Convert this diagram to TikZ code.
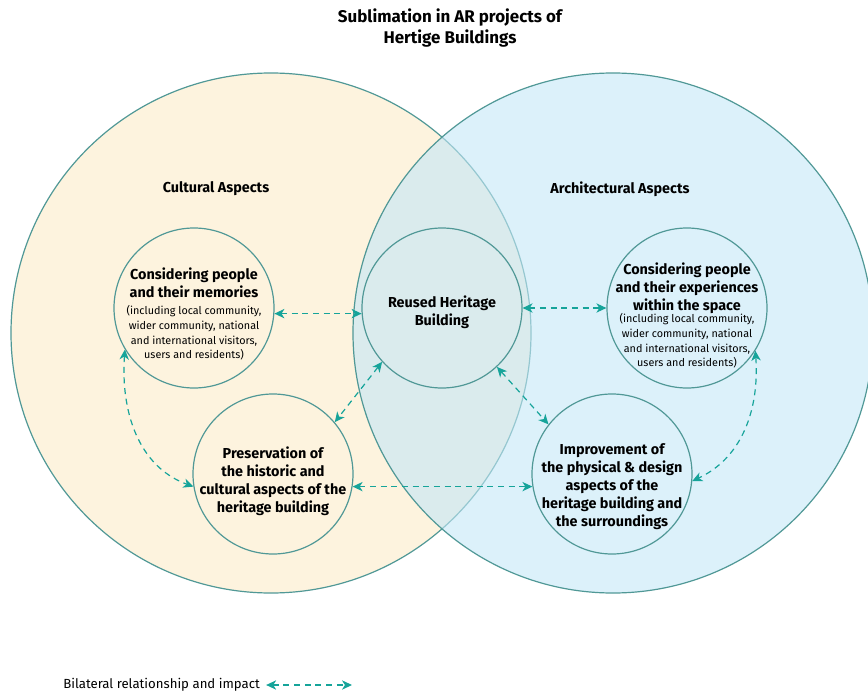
\documentclass[tikz,border=0pt]{standalone}
\usepackage{fontspec}
\setmainfont{Fira Sans}
\usetikzlibrary{arrows.meta}

\definecolor{culture}{RGB}{253,243,222}
\definecolor{archi}{RGB}{196,231,247}
\definecolor{rim}{RGB}{80,152,150}
\definecolor{arrowteal}{RGB}{22,164,154}

\tikzset{
  aspect/.style={circle, draw=rim, line width=0.9pt, minimum size=390pt, inner sep=0pt},
  topic/.style={circle, draw=rim, line width=0.9pt, minimum size=120pt, inner sep=0pt},
  head/.style={font=\bfseries\fontsize{10.8}{13.5}\selectfont, align=center, inner sep=0pt},
  note/.style={font=\fontsize{8.1}{11}\selectfont, align=center, inner sep=0pt},
  link/.style={draw=arrowteal, line width=0.9pt, dash pattern=on 4.5pt off 3.5pt, <->, >={Stealth[length=7.5pt,width=7pt,inset=2.2pt]}},
}

\begin{document}
\begin{tikzpicture}[x=0.75pt, y=-0.75pt]
    \useasboundingbox (0,0) rectangle (868,692);

    % the two aspects
    \node (cultural) [aspect, fill=culture] at (271,333) {};
    \node (architectural) [aspect, fill=archi, fill opacity=0.6] at (613,333) {};

    \node (title) [head, font=\bfseries\fontsize{12.7}{16}\selectfont] at (450,28) {Sublimation in AR projects of\\Hertige Buildings};
    \node (culturalT) [head] at (216,189) {Cultural Aspects};
    \node (architecturalT) [head] at (620,189) {Architectural Aspects};

    % inner circles
    \node (memories) [topic] at (194,308) {};
    \node (reused) [topic] at (442,308) {};
    \node (experiences) [topic] at (687,308) {};
    \node (preservation) [topic] at (273,474) {};
    \node (improvement) [topic] at (612,474) {};

    \node (memoriesH) [head] at (194,283) {Considering people\\and their memories};
    \node (memoriesN) [note] at (194,333) {(including local community,\\wider community, national\\and international visitors,\\users and residents)};
    \node (reusedH) [head] at (442,312) {Reused Heritage\\Building};
    \node (experiencesH) [head] at (687,288) {Considering people\\and their experiences\\within the space};
    \node (experiencesN) [note] at (687,341) {(including local community,\\wider community, national\\and international visitors,\\users and residents)};
    \node (preservationH) [head] at (273,481) {Preservation of\\the historic and\\cultural aspects of the\\heritage building};
    \node (improvementH) [head] at (612,487) {Improvement of\\the physical \& design\\aspects of the\\heritage building and\\the surroundings};

    % bilateral links
    \draw [link] (memories.-4) -- (reused.184);
    \draw [link] (reused.east) -- (experiences.west);
    \draw [link] (reused.222) -- (preservation.40);
    \draw [link] (reused.-47) -- (improvement.142);
    \draw [link] (preservation.-9) -- (improvement.189);
    \draw [link] (memories.211) to[out=266, in=160] (preservation.189);
    \draw [link] (experiences.-32) to[out=-86, in=25] (improvement.-5);

    % legend
    \node (legend) [note, font=\fontsize{9.9}{11}\selectfont, anchor=west] at (63,685) {Bilateral relationship and impact};
    \coordinate (legendend) at (352,685);
    \draw [link] ([xshift=4.5pt]legend.east) -- (legendend);
\end{tikzpicture}
\end{document}
